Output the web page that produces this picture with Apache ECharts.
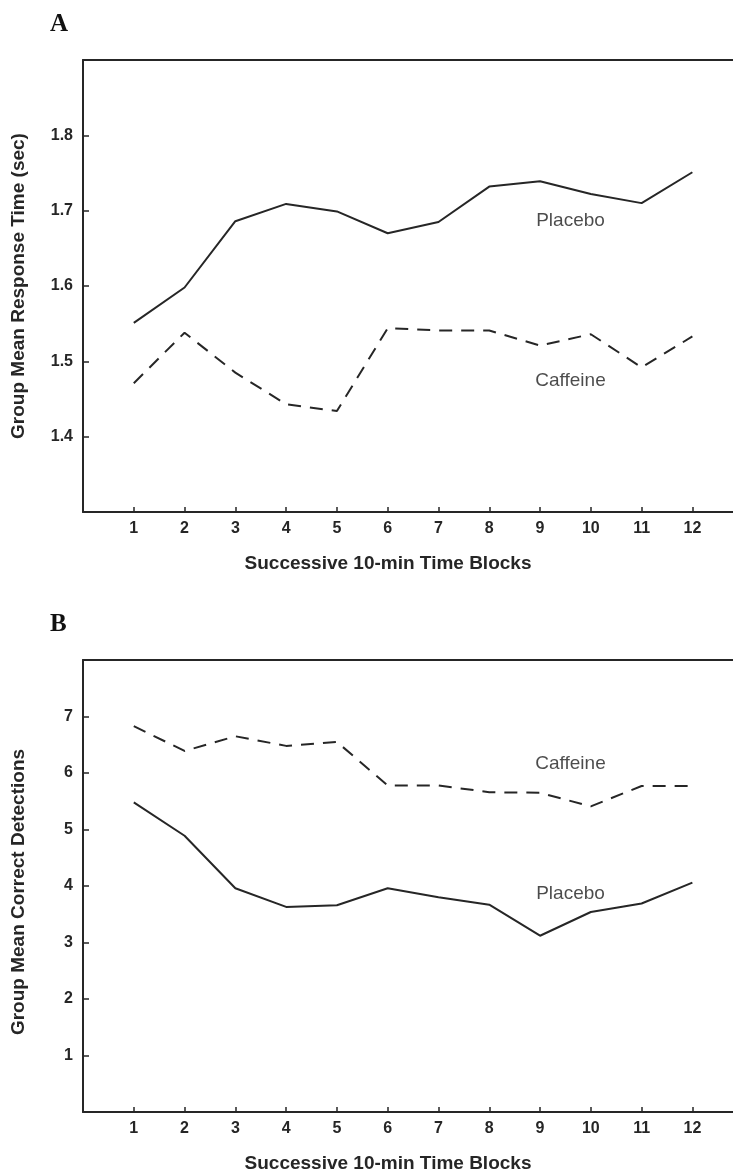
<!DOCTYPE html>
<html>
<head>
<meta charset="utf-8">
<script src="https://cdn.jsdelivr.net/npm/echarts@6/dist/echarts.min.js"></script>
<style>
  html, body { margin: 0; padding: 0; background: #ffffff; }
  #chart { width: 733px; height: 1174px; }
</style>
</head>
<body>
<div id="chart"></div>
<script>
// Successive 10-min time blocks
const blocks = [1, 2, 3, 4, 5, 6, 7, 8, 9, 10, 11, 12];

// Panel A: group mean response time (sec)
const rtPlacebo  = [1.551, 1.598, 1.686, 1.709, 1.699, 1.670, 1.685, 1.732, 1.739, 1.722, 1.710, 1.751];
const rtCaffeine = [1.471, 1.538, 1.485, 1.443, 1.434, 1.544, 1.541, 1.541, 1.521, 1.536, 1.492, 1.533];

// Panel B: group mean correct detections
const detCaffeine = [6.83, 6.39, 6.65, 6.48, 6.55, 5.78, 5.78, 5.66, 5.65, 5.41, 5.77, 5.77];
const detPlacebo  = [5.48, 4.89, 3.96, 3.63, 3.66, 3.96, 3.80, 3.67, 3.12, 3.54, 3.69, 4.06];

// Tick labels
const rtTicks = [1.4, 1.5, 1.6, 1.7, 1.8];
const detTicks = [1, 2, 3, 4, 5, 6, 7];

const INK = '#262626';
const FONT = '"Liberation Sans", Arial, sans-serif';
const SERIF = '"Liberation Serif", "Times New Roman", serif';

const zip = (xs, ys) => xs.map((x, i) => [x, ys[i]]);

const grids = [
  { left: 83, right: 0, top: 60, height: 452 },
  { left: 83, right: 0, top: 660, height: 452 }
];

function bottomAxis(gridIndex) {
  return {
    type: 'value', gridIndex, position: 'bottom',
    min: 0, max: 12.8, interval: 1,
    name: 'Successive 10-min Time Blocks',
    nameLocation: 'middle', nameGap: 42,
    nameTextStyle: { fontFamily: FONT, fontWeight: 'bold', fontSize: 19, color: INK, padding: [0, 40, 0, 0] },
    axisLine: { show: true, onZero: false, lineStyle: { color: INK, width: 2 } },
    axisTick: { show: true, inside: true, length: 5, customValues: blocks, lineStyle: { color: INK, width: 1.5 } },
    axisLabel: { show: true, margin: 9, customValues: blocks, fontFamily: FONT, fontWeight: 'bold', fontSize: 16, color: INK },
    splitLine: { show: false }
  };
}

function topAxis(gridIndex) {
  return {
    type: 'value', gridIndex, position: 'top',
    min: 0, max: 12.8,
    axisLine: { show: true, onZero: false, lineStyle: { color: INK, width: 2 } },
    axisTick: { show: false }, axisLabel: { show: false }, splitLine: { show: false }
  };
}

function leftAxis(gridIndex, name, min, max, interval, ticks, digits, namePad) {
  return {
    type: 'value', gridIndex, position: 'left',
    min, max, interval,
    name, nameLocation: 'middle', nameGap: 55,
    nameTextStyle: { fontFamily: FONT, fontWeight: 'bold', fontSize: 19, color: INK, padding: namePad },
    axisLine: { show: true, onZero: false, lineStyle: { color: INK, width: 2 } },
    axisTick: { show: true, inside: true, length: 6, customValues: ticks, lineStyle: { color: INK, width: 1.5 } },
    axisLabel: {
      show: true, margin: 10, customValues: ticks,
      formatter: v => Number(v).toFixed(digits),
      fontFamily: FONT, fontWeight: 'bold', fontSize: 16, color: INK
    },
    splitLine: { show: false }
  };
}

function curve(name, xi, yi, values, dashed) {
  return {
    type: 'line', name, xAxisIndex: xi, yAxisIndex: yi,
    data: zip(blocks, values),
    symbol: 'none', smooth: false,
    lineStyle: { color: INK, width: 2, type: dashed ? [13, 9] : 'solid' },
    z: 3
  };
}

// Curve name tags, anchored in data coordinates
function tag(text, xi, yi, at) {
  return {
    type: 'scatter', xAxisIndex: xi, yAxisIndex: yi,
    data: [at], symbolSize: 1, itemStyle: { color: 'rgba(0,0,0,0)' },
    label: { show: true, position: 'inside', formatter: text, fontFamily: FONT, fontSize: 19, color: '#1e1e1e' },
    silent: true
  };
}

const option = {
  animation: false,
  backgroundColor: '#ffffff',
  title: [
    { text: 'A', left: 45, top: 7, textStyle: { fontFamily: SERIF, fontWeight: 'bold', fontSize: 25, color: '#111' } },
    { text: 'B', left: 45, top: 607, textStyle: { fontFamily: SERIF, fontWeight: 'bold', fontSize: 25, color: '#111' } }
  ],
  grid: grids,
  xAxis: [bottomAxis(0), topAxis(0), bottomAxis(1), topAxis(1)],
  yAxis: [
    leftAxis(0, 'Group Mean Response Time (sec)', 1.3, 1.9, 0.1, rtTicks, 1, [0, 0, 0, 0]),
    leftAxis(1, 'Group Mean Correct Detections', 0, 8, 1, detTicks, 0, [0, 12, 0, 0])
  ],
  series: [
    curve('Placebo', 0, 0, rtPlacebo, false),
    curve('Caffeine', 0, 0, rtCaffeine, true),
    curve('Caffeine', 2, 1, detCaffeine, true),
    curve('Placebo', 2, 1, detPlacebo, false),
    tag('Placebo', 0, 0, [9.6, 1.686]),
    tag('Caffeine', 0, 0, [9.6, 1.474]),
    tag('Caffeine', 2, 1, [9.6, 6.16]),
    tag('Placebo', 2, 1, [9.6, 3.87])
  ]
};

const chart = echarts.init(document.getElementById('chart'), null, { renderer: 'canvas' });
chart.setOption(option);
</script>
</body>
</html>
